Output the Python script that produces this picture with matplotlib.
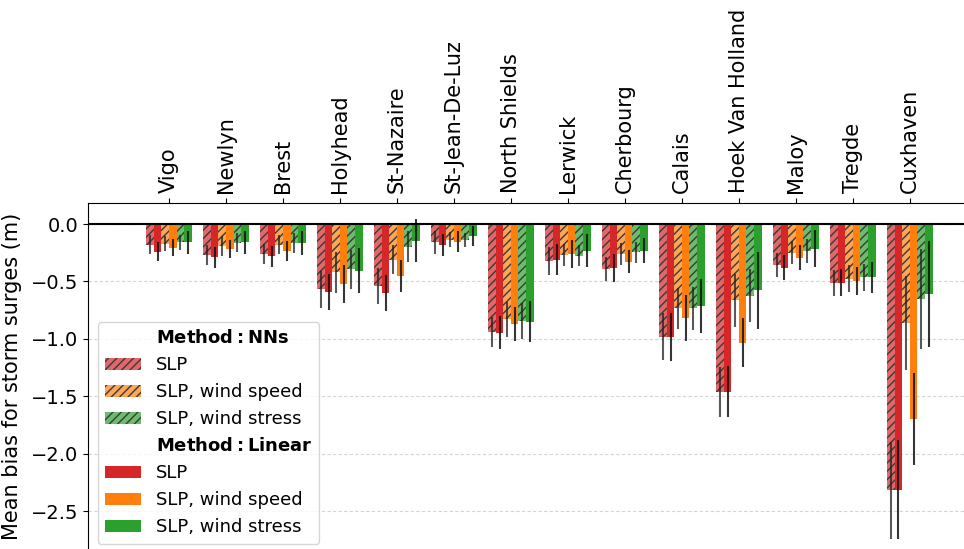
import numpy as np
import matplotlib
matplotlib.use("Agg")
import matplotlib.pyplot as plt
from matplotlib.patches import Patch

stations = ["Vigo", "Newlyn", "Brest", "Holyhead", "St-Nazaire", "St-Jean-De-Luz",
            "North Shields", "Lerwick", "Cherbourg", "Calais", "Hoek Van Holland",
            "Maloy", "Tregde", "Cuxhaven"]

# mean bias (m) and error half-widths, NNs (hatched) and linear (solid)
nn_slp = [-0.18, -0.27, -0.26, -0.57, -0.54, -0.16, -0.94, -0.32, -0.39, -0.98, -1.46, -0.36, -0.51, -2.32]
nn_slp_err = [0.08, 0.09, 0.085, 0.165, 0.16, 0.097, 0.134, 0.12, 0.107, 0.208, 0.218, 0.105, 0.113, 0.42]
lin_slp = [-0.24, -0.29, -0.28, -0.59, -0.60, -0.18, -0.945, -0.31, -0.385, -0.985, -1.46, -0.38, -0.51, -2.315]
lin_slp_err = [0.083, 0.09, 0.09, 0.157, 0.154, 0.097, 0.142, 0.134, 0.12, 0.212, 0.22, 0.11, 0.12, 0.43]

nn_ws = [-0.17, -0.19, -0.18, -0.42, -0.31, -0.135, -0.83, -0.27, -0.26, -0.735, -0.665, -0.25, -0.475, -0.865]
nn_ws_err = [0.067, 0.085, 0.085, 0.18, 0.126, 0.068, 0.154, 0.092, 0.097, 0.179, 0.228, 0.1, 0.118, 0.41]
lin_ws = [-0.205, -0.22, -0.235, -0.525, -0.455, -0.155, -0.87, -0.26, -0.33, -0.817, -1.035, -0.295, -0.495, -1.695]
lin_ws_err = [0.076, 0.078, 0.09, 0.167, 0.138, 0.09, 0.148, 0.12, 0.1, 0.2, 0.214, 0.108, 0.122, 0.40]

nn_wst = [-0.16, -0.165, -0.165, -0.395, -0.20, -0.14, -0.845, -0.275, -0.245, -0.735, -0.625, -0.235, -0.465, -0.655]
nn_wst_err = [0.067, 0.083, 0.09, 0.17, 0.135, 0.063, 0.153, 0.09, 0.092, 0.19, 0.23, 0.107, 0.12, 0.436]
lin_wst = [-0.16, -0.157, -0.165, -0.405, -0.145, -0.105, -0.85, -0.233, -0.233, -0.71, -0.576, -0.215, -0.465, -0.61]
lin_wst_err = [0.10, 0.10, 0.107, 0.20, 0.19, 0.087, 0.177, 0.142, 0.11, 0.235, 0.334, 0.163, 0.132, 0.465]

red, orange, green = "#d62728", "#ff7f0e", "#2ca02c"

series = [
    (nn_slp, nn_slp_err, red, True, "SLP"),
    (lin_slp, lin_slp_err, red, False, "SLP"),
    (nn_ws, nn_ws_err, orange, True, "SLP, wind speed"),
    (lin_ws, lin_ws_err, orange, False, "SLP, wind speed"),
    (nn_wst, nn_wst_err, green, True, "SLP, wind stress"),
    (lin_wst, lin_wst_err, green, False, "SLP, wind stress"),
]

plt.rcParams["hatch.linewidth"] = 1.0
fig = plt.figure(figsize=(9.64, 5.49), dpi=100)
ax = fig.add_axes([88 / 964, 0.0, 876 / 964, (549 - 203) / 549])

x = np.arange(len(stations))
w = 0.133
handles = {}
for i, (vals, err, c, hatched, lab) in enumerate(series):
    pos = x + (i - 2.5) * w
    if hatched:
        b = ax.bar(pos, vals, w, color=matplotlib.colors.to_rgba(c, 0.7),
                   edgecolor="#3a3a3a", hatch="////", linewidth=0)
        ax.errorbar(pos, vals, yerr=err, fmt="none", ecolor="#222222", elinewidth=1.5, alpha=0.75)
    else:
        b = ax.bar(pos, vals, w, color=c, linewidth=0)
        ax.errorbar(pos, vals, yerr=err, fmt="none", ecolor="#111111", elinewidth=1.5, alpha=0.85)
    handles[i] = b

ax.axhline(0, color="k", linewidth=1.5)
ax.set_xlim(-1.42, 13.95)
ax.set_ylim(-2.83, 0.183)
ax.set_yticks([0.0, -0.5, -1.0, -1.5, -2.0, -2.5])
ax.yaxis.grid(True, linestyle=(0, (3, 2)), color="#d4d4d4", linewidth=0.8)
ax.set_axisbelow(True)
ax.xaxis.tick_top()
ax.set_xticks(x)
ax.set_xticklabels(stations, rotation=90, fontsize=15)
ax.tick_params(axis="y", labelsize=14)
ax.spines["right"].set_visible(False)
ax.spines["bottom"].set_visible(False)
ax.set_ylabel("Mean bias for storm surges (m)", fontsize=15, labelpad=6)

blank = Patch(alpha=0)
leg_handles = [blank, handles[0], handles[2], handles[4], blank, handles[1], handles[3], handles[5]]
leg_labels = [r"$\bf{Method:NNs}$", "SLP", "SLP, wind speed", "SLP, wind stress",
              r"$\bf{Method:Linear}$", "SLP", "SLP, wind speed", "SLP, wind stress"]
ax.legend(leg_handles, leg_labels, loc="lower left", fontsize=13, borderaxespad=0.3,
          bbox_to_anchor=(0.005, 0.0))

fig.savefig("out.png", dpi=100)
